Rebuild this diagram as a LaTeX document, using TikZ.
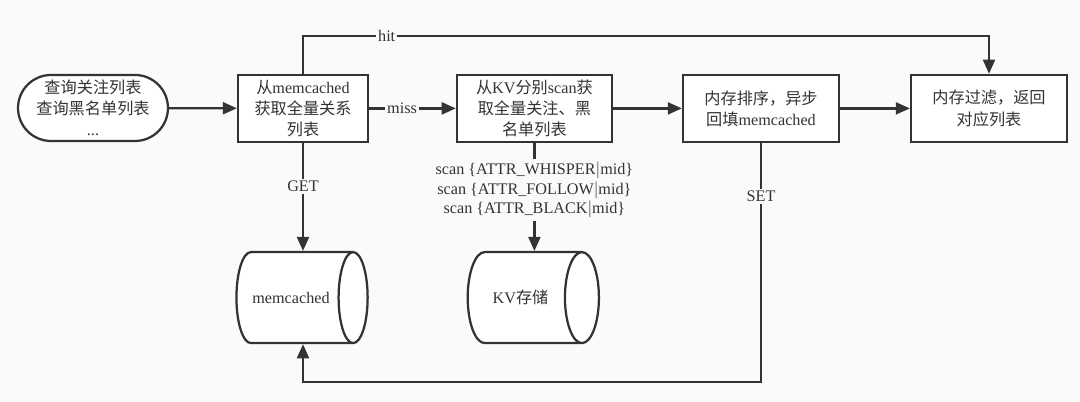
\documentclass[tikz,border=0pt]{standalone}
\usepackage{fontspec}
\setmainfont{Liberation Serif}
\newfontfamily\cjk{Noto Sans CJK SC}
\usetikzlibrary{arrows.meta,shapes.geometric,shapes.misc}
\newcommand{\zhs}[1]{{\cjk #1}}
\definecolor{bgcol}{RGB}{250,250,250}
\definecolor{ink}{RGB}{51,51,51}
\tikzset{
  stepbox/.style={draw=ink,line width=1.6pt,rectangle,fill=white,minimum height=1.675cm,
    align=center,inner sep=2pt,text=ink,font=\fontsize{11.5}{15}\selectfont},
  startbox/.style={stepbox,rounded rectangle,minimum width=3.575cm,minimum height=1.65cm},
  store/.style={draw=ink,line width=1.6pt,cylinder,aspect=1.4,fill=white,
    minimum width=2.275cm,minimum height=3.28cm,text=ink,font=\fontsize{11.5}{15}\selectfont},
  flow/.style={draw=ink,line width=1.6pt,-{Triangle[length=10pt,width=8.5pt]}},
  lbl/.style={fill=bgcol,inner sep=1.5pt,text=ink,font=\fontsize{11.5}{14}\selectfont,align=center}
}
\begin{document}
\begin{tikzpicture}
  \fill[bgcol] (0,0) rectangle (27,10.05);
  \useasboundingbox (0,0) rectangle (27,10.05);
  % 步骤
  \node[startbox] (query) at (2.325,7.35) {\zhs{查询关注列表}\\\zhs{查询黑名单列表}\\...};
  \node[stepbox,minimum width=3.25cm] (cache) at (7.575,7.34) {\zhs{从}memcached\\\zhs{获取全量关系}\\\zhs{列表}};
  \node[stepbox,minimum width=3.875cm] (scan) at (13.36,7.34) {\zhs{从}KV\zhs{分别}scan\zhs{获}\\\zhs{取全量关注、黑}\\\zhs{名单列表}};
  \node[stepbox,minimum width=3.9cm] (sort) at (19.025,7.34) {\zhs{内存排序，异步}\\\zhs{回填}memcached};
  \node[stepbox,minimum width=3.9cm] (filter) at (24.725,7.34) {\zhs{内存过滤，返回}\\\zhs{对应列表}};
  % 存储
  \node[store] (memc) at (7.275,2.61) {\makebox[0pt]{memcached}};
  \node[store] (kv) at (13.0125,2.61) {\makebox[0pt]{KV\zhs{存储}}};
  \node[lbl] (keys) at (13.36,5.3) {scan \{ATTR\_WHISPER$|$mid\}\\scan \{ATTR\_FOLLOW$|$mid\}\\scan \{ATTR\_BLACK$|$mid\}};
  % 连线
  \draw[flow] (query) -- (cache);
  \draw[flow] (cache) -- node[lbl,pos=0.38] {miss} (scan);
  \draw[flow] (scan) -- (sort);
  \draw[flow] (sort) -- (filter);
  \draw[flow] (cache.north) |- node[lbl,pos=0.561] {hit} (filter.north |- 0,9.15) -- (filter.north);
  \draw[flow] (cache) -- node[lbl,pos=0.4] {GET} (cache |- memc.north);
  \draw[draw=ink,line width=1.6pt] (scan) -- (keys);
  \draw[flow] (keys) -- (keys |- kv.north);
  \draw[flow] (sort.south) -- node[lbl,pos=0.222] {SET} ++(0,-5.9775) -| (cache |- memc.south);
\end{tikzpicture}
\end{document}
